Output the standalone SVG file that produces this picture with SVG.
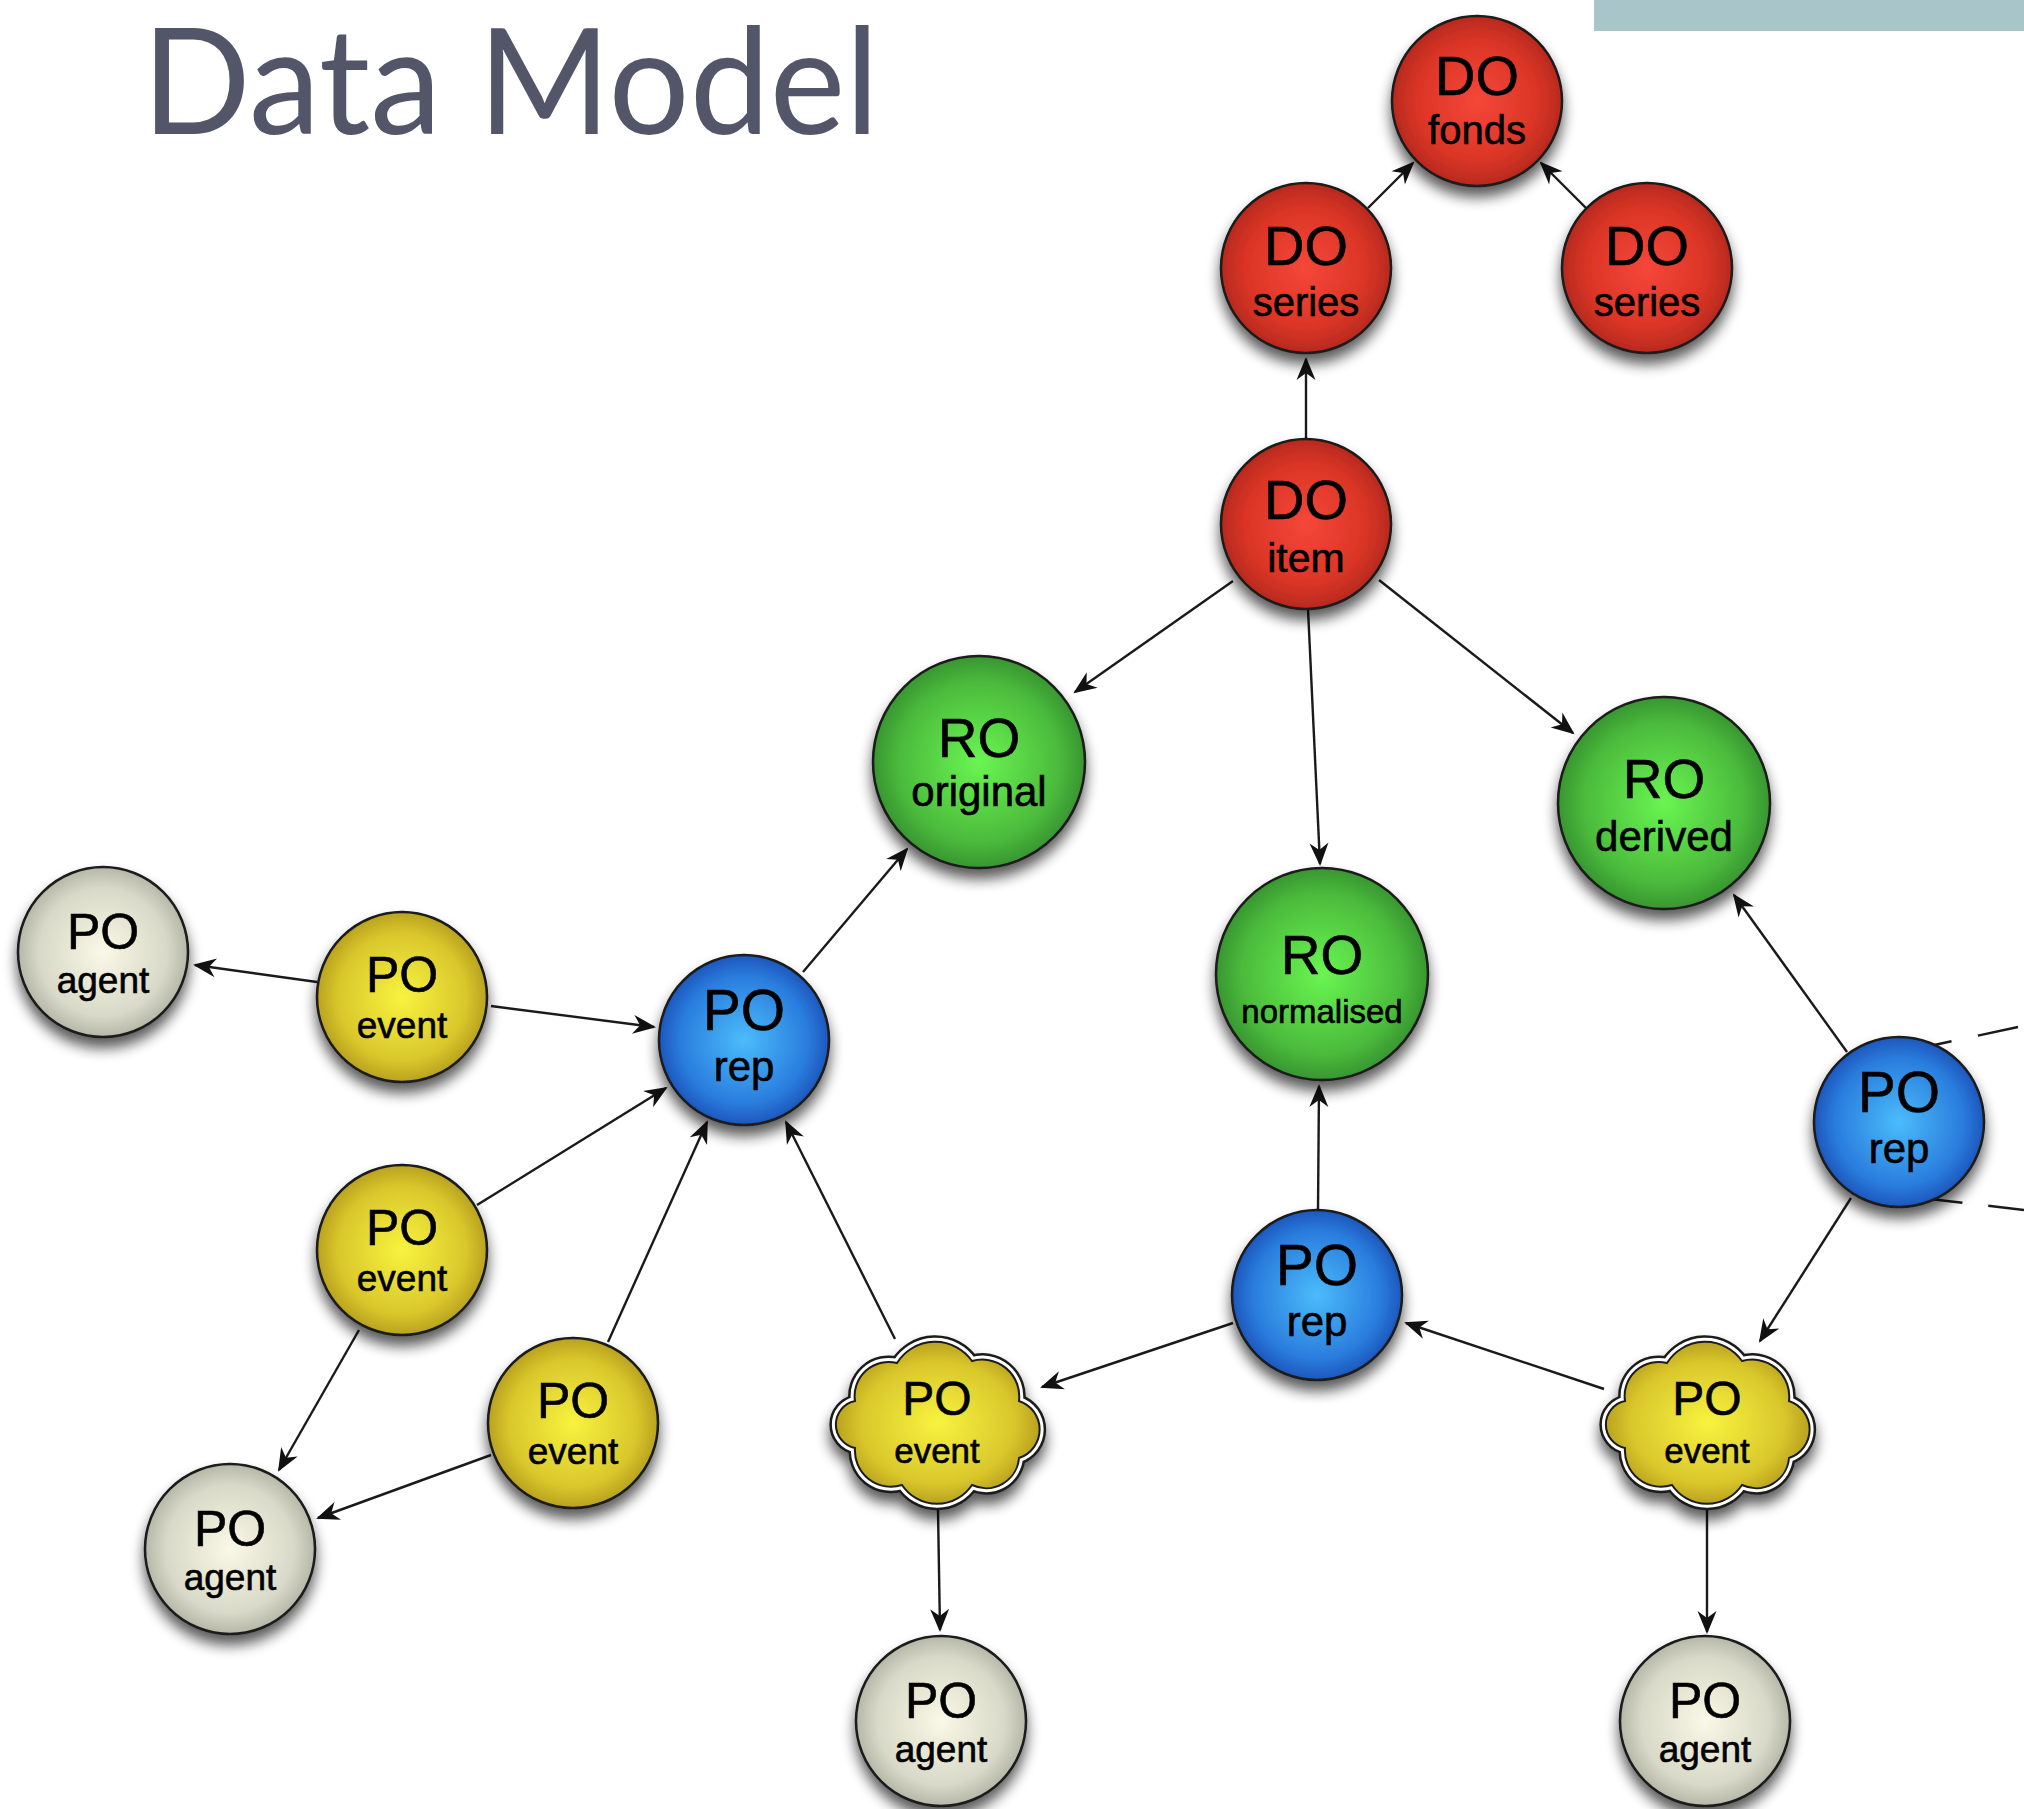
<svg xmlns="http://www.w3.org/2000/svg" width="2024" height="1809" viewBox="0 0 2024 1809">
<defs>
<style>
.lbl{font-family:"Liberation Sans",Arial,Helvetica,sans-serif;fill:#000;text-anchor:middle;stroke:#000;stroke-width:0.6}
.node{stroke:#1a1a1a;stroke-width:2.5}
.edge{stroke:#1a1a1a;stroke-width:2.4;fill:none;marker-end:url(#arr)}
.dash{stroke:#1a1a1a;stroke-width:2.4;fill:none}
</style>
<radialGradient id="gRed" cx="50%" cy="50%" r="50%"><stop offset="0" stop-color="#f5473a"/><stop offset="0.7" stop-color="#db3526"/><stop offset="1" stop-color="#b82a1e"/></radialGradient>
<radialGradient id="gGreen" cx="50%" cy="50%" r="50%"><stop offset="0" stop-color="#6af552"/><stop offset="0.75" stop-color="#4bbb3c"/><stop offset="1" stop-color="#389631"/></radialGradient>
<radialGradient id="gBlue" cx="50%" cy="50%" r="50%"><stop offset="0" stop-color="#4bbcfb"/><stop offset="0.75" stop-color="#2a7ddd"/><stop offset="1" stop-color="#1d57bd"/></radialGradient>
<radialGradient id="gYellow" cx="50%" cy="50%" r="50%"><stop offset="0" stop-color="#f8f33e"/><stop offset="0.75" stop-color="#d9c72c"/><stop offset="1" stop-color="#b9a21f"/></radialGradient>
<radialGradient id="gGray" cx="50%" cy="50%" r="50%"><stop offset="0" stop-color="#faf8e6"/><stop offset="0.75" stop-color="#d8d9c8"/><stop offset="1" stop-color="#b6b8a7"/></radialGradient>
<filter id="sh" x="-30%" y="-30%" width="160%" height="175%">
<feGaussianBlur in="SourceAlpha" stdDeviation="7"/>
<feOffset dy="10"/>
<feComponentTransfer><feFuncA type="linear" slope="0.65"/></feComponentTransfer>
<feMerge><feMergeNode/><feMergeNode in="SourceGraphic"/></feMerge>
</filter>
<marker id="arr" markerUnits="userSpaceOnUse" viewBox="-24 -11 27 22" refX="0" refY="0" markerWidth="27" markerHeight="22" orient="auto">
<path d="M2,0 L-21,-9.5 L-14,0 L-21,9.5 Z" fill="#111"/>
</marker>
<path id="cloud" d="M-40,-60 A45,45 0 0 1 35,-62 A37,37 0 0 1 82,-22 A30,30 0 0 1 82,35 A33,33 0 0 1 35,62 A42,42 0 0 1 -35,62 A36,36 0 0 1 -82,25 A24,24 0 0 1 -82,-22 A34,34 0 0 1 -40,-60 Z"/>
</defs>
<rect x="0" y="0" width="2024" height="1809" fill="#ffffff"/>
<rect x="1594" y="0" width="430" height="31" fill="#a8c6c9"/>
<text x="142" y="134" font-family="Lato,'Open Sans',sans-serif" font-size="148" fill="#525668" textLength="737" lengthAdjust="spacingAndGlyphs">Data Model</text>

<g id="connectors">
<line class="edge" x1="1368" y1="208" x2="1413" y2="163"/>
<line class="edge" x1="1586" y1="208" x2="1541" y2="163"/>
<line class="edge" x1="1306" y1="439" x2="1306" y2="359"/>
<line class="edge" x1="1233" y1="581" x2="1075" y2="692"/>
<line class="edge" x1="1308" y1="609" x2="1320" y2="864"/>
<line class="edge" x1="1379" y1="580" x2="1573" y2="733"/>
<line class="edge" x1="803" y1="972" x2="907" y2="849"/>
<line class="edge" x1="317" y1="982" x2="195" y2="965"/>
<line class="edge" x1="491" y1="1006" x2="654" y2="1027"/>
<line class="edge" x1="477" y1="1205" x2="666" y2="1088"/>
<line class="edge" x1="359" y1="1330" x2="279" y2="1470"/>
<line class="edge" x1="491" y1="1455" x2="318" y2="1518"/>
<line class="edge" x1="608" y1="1342" x2="707" y2="1122"/>
<line class="edge" x1="895" y1="1339" x2="786" y2="1122"/>
<line class="edge" x1="1233" y1="1323" x2="1042" y2="1387"/>
<line class="edge" x1="938" y1="1510" x2="940" y2="1630"/>
<line class="edge" x1="1318" y1="1210" x2="1319" y2="1086"/>
<line class="edge" x1="1604" y1="1389" x2="1406" y2="1323"/>
<line class="edge" x1="1847" y1="1052" x2="1734" y2="895"/>
<line class="edge" x1="1851" y1="1198" x2="1760" y2="1341"/>
<line class="edge" x1="1707" y1="1509" x2="1707" y2="1632"/>
<line class="dash" x1="2018" y1="1027" x2="1925" y2="1047" stroke-dasharray="41 27"/>
<line class="dash" x1="2024" y1="1210" x2="1930" y2="1199" stroke-dasharray="36 26"/>
</g>

<g id="do-fonds"><circle class="node" cx="1477" cy="101" r="85" fill="url(#gRed)" filter="url(#sh)"/><text class="lbl" x="1477" y="95" font-size="56">DO</text><text class="lbl" x="1477" y="144" font-size="40">fonds</text></g>
<g id="do-series-1"><circle class="node" cx="1306" cy="268" r="85" fill="url(#gRed)" filter="url(#sh)"/><text class="lbl" x="1306" y="265" font-size="56">DO</text><text class="lbl" x="1306" y="316" font-size="40">series</text></g>
<g id="do-series-2"><circle class="node" cx="1647" cy="268" r="85" fill="url(#gRed)" filter="url(#sh)"/><text class="lbl" x="1647" y="265" font-size="56">DO</text><text class="lbl" x="1647" y="316" font-size="40">series</text></g>
<g id="do-item"><circle class="node" cx="1306" cy="524" r="85" fill="url(#gRed)" filter="url(#sh)"/><text class="lbl" x="1306" y="519" font-size="56">DO</text><text class="lbl" x="1306" y="572" font-size="41">item</text></g>

<g id="ro-original"><circle class="node" cx="979" cy="762" r="106" fill="url(#gGreen)" filter="url(#sh)"/><text class="lbl" x="979" y="757" font-size="55">RO</text><text class="lbl" x="979" y="806" font-size="42">original</text></g>
<g id="ro-derived"><circle class="node" cx="1664" cy="803" r="106" fill="url(#gGreen)" filter="url(#sh)"/><text class="lbl" x="1664" y="798" font-size="55">RO</text><text class="lbl" x="1664" y="851" font-size="42">derived</text></g>
<g id="ro-normalised"><circle class="node" cx="1322" cy="974" r="106" fill="url(#gGreen)" filter="url(#sh)"/><text class="lbl" x="1322" y="974" font-size="55">RO</text><text class="lbl" x="1322" y="1023" font-size="33">normalised</text></g>

<g id="po-rep-1"><circle class="node" cx="744" cy="1040" r="85" fill="url(#gBlue)" filter="url(#sh)"/><text class="lbl" x="744" y="1030" font-size="57">PO</text><text class="lbl" x="744" y="1081" font-size="42">rep</text></g>
<g id="po-rep-2"><circle class="node" cx="1317" cy="1295" r="85" fill="url(#gBlue)" filter="url(#sh)"/><text class="lbl" x="1317" y="1285" font-size="57">PO</text><text class="lbl" x="1317" y="1336" font-size="42">rep</text></g>
<g id="po-rep-3"><circle class="node" cx="1899" cy="1122" r="85" fill="url(#gBlue)" filter="url(#sh)"/><text class="lbl" x="1899" y="1112" font-size="57">PO</text><text class="lbl" x="1899" y="1163" font-size="42">rep</text></g>

<g id="po-agent-1"><circle class="node" cx="103" cy="952" r="85" fill="url(#gGray)" filter="url(#sh)"/><text class="lbl" x="103" y="949" font-size="50">PO</text><text class="lbl" x="103" y="993" font-size="37">agent</text></g>
<g id="po-event-1"><circle class="node" cx="402" cy="997" r="85" fill="url(#gYellow)" filter="url(#sh)"/><text class="lbl" x="402" y="992" font-size="50">PO</text><text class="lbl" x="402" y="1038" font-size="37">event</text></g>
<g id="po-event-2"><circle class="node" cx="402" cy="1250" r="85" fill="url(#gYellow)" filter="url(#sh)"/><text class="lbl" x="402" y="1245" font-size="50">PO</text><text class="lbl" x="402" y="1291" font-size="37">event</text></g>
<g id="po-event-3"><circle class="node" cx="573" cy="1423" r="85" fill="url(#gYellow)" filter="url(#sh)"/><text class="lbl" x="573" y="1418" font-size="50">PO</text><text class="lbl" x="573" y="1464" font-size="37">event</text></g>
<g id="po-agent-2"><circle class="node" cx="230" cy="1549" r="85" fill="url(#gGray)" filter="url(#sh)"/><text class="lbl" x="230" y="1546" font-size="50">PO</text><text class="lbl" x="230" y="1590" font-size="37">agent</text></g>

<g id="po-event-cloud-1" transform="translate(937,1423)">
<g filter="url(#sh)"><use href="#cloud" fill="none" stroke="#1a1a1a" stroke-width="13"/><use href="#cloud" fill="none" stroke="#ffffff" stroke-width="8"/><use href="#cloud" fill="url(#gYellow)" stroke="#1a1a1a" stroke-width="2"/></g>
<text class="lbl" x="0" y="-8" font-size="48">PO</text><text class="lbl" x="0" y="40" font-size="35">event</text>
</g>
<g id="po-event-cloud-2" transform="translate(1707,1423)">
<g filter="url(#sh)"><use href="#cloud" fill="none" stroke="#1a1a1a" stroke-width="13"/><use href="#cloud" fill="none" stroke="#ffffff" stroke-width="8"/><use href="#cloud" fill="url(#gYellow)" stroke="#1a1a1a" stroke-width="2"/></g>
<text class="lbl" x="0" y="-8" font-size="48">PO</text><text class="lbl" x="0" y="40" font-size="35">event</text>
</g>

<g id="po-agent-3"><circle class="node" cx="941" cy="1721" r="85" fill="url(#gGray)" filter="url(#sh)"/><text class="lbl" x="941" y="1718" font-size="50">PO</text><text class="lbl" x="941" y="1762" font-size="37">agent</text></g>
<g id="po-agent-4"><circle class="node" cx="1705" cy="1721" r="85" fill="url(#gGray)" filter="url(#sh)"/><text class="lbl" x="1705" y="1718" font-size="50">PO</text><text class="lbl" x="1705" y="1762" font-size="37">agent</text></g>
</svg>
